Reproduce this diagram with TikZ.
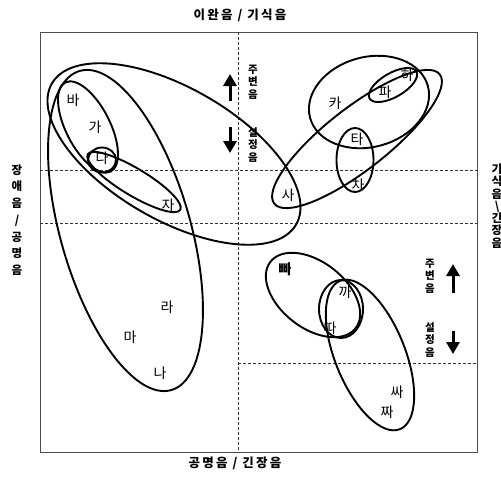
\documentclass[tikz,border=0pt]{standalone}
\usepackage{fontspec}
\newfontfamily\kr{Noto Sans CJK KR}
\usetikzlibrary{arrows.meta}
\tikzset{
  frameln/.style={line width=0.8pt, black!70},
  gridln/.style={dash pattern=on 2.5pt off 2.5pt, line width=0.7pt, black!80},
  grp/.style={line width=1.9pt},
  phon/.style={font=\kr\fontsize{14}{14}\selectfont, inner sep=0pt},
  axlab/.style={font=\kr\bfseries\fontsize{12.5}{12.5}\selectfont, inner sep=0pt},
  sidelab/.style={font=\kr\bfseries\fontsize{11.5}{16.7}\selectfont, align=center, inner sep=0pt},
  featlab/.style={font=\kr\bfseries\fontsize{10.5}{12.5}\selectfont, align=center, inner sep=0pt},
  dirarr/.style={-{Triangle[length=12pt,width=13pt]}, line width=3pt},
}
\newcommand{\grpell}[5]{% centre x, centre y, angle, half axes
  \draw[grp, rotate around={#3:(#1,#2)}] (#1,#2) ellipse [x radius=#4pt, y radius=#5pt];
}
\newcommand{\gap}{\hspace{2.2pt}}

\begin{document}
\begin{tikzpicture}[x=1pt, y=-1pt]
    \useasboundingbox (0,0) rectangle (501,488);
    \fill[white] (0,0) rectangle (501,488);
    % frame and quadrant lines
    \draw[frameln] (40,32) rectangle (477,452);
    \draw[gridln] (238,32) -- (238,452);
    \draw[gridln] (40,170) -- (477,170);
    \draw[gridln] (40,223) -- (477,223);
    \draw[gridln] (238,363) -- (477,363);
    % axis labels
    \node[axlab] (top) at (240,15) {이\gap 완\gap 음\gap\ /\gap\ 기\gap 식\gap 음};
    \node[axlab] (bot) at (235,463) {공\gap 명\gap 음\gap\ /\gap\ 긴\gap 장\gap 음};
    \node[sidelab] (left) at (17,220) {장\\애\\음\\/\\공\\명\\음};
    \node[sidelab, font=\kr\bfseries\fontsize{11.5}{12.3}\selectfont] (right) at (497,206)
      {기\\식\\음\\\textbackslash\\긴\\장\\음};
    % feature labels
    \node[featlab] (pe1) at (253,82) {주\\변\\음};
    \node[featlab] (co1) at (253,145) {설\\정\\음};
    \node[featlab] (pe2) at (430,276) {주\\변\\음};
    \node[featlab] (co2) at (430,340) {설\\정\\음};
    \draw[dirarr] (230,101) -- (230,74);
    \draw[dirarr] (230,127) -- (230,153);
    \draw[dirarr] (453,293) -- (453,264);
    \draw[dirarr] (453,331) -- (453,354);
    % the segments
    \node[phon] (ba) at (73,100) {바};
    \node[phon] (ga) at (95,127) {가};
    \node[phon] (da) at (102,158) {다};
    \node[phon] (ja) at (168,205) {자};
    \node[phon] (ra) at (167,307) {라};
    \node[phon] (ma) at (130,337) {마};
    \node[phon] (na) at (160,373) {나};
    \node[phon] (ka) at (335,103) {카};
    \node[phon] (pa) at (385,92) {파};
    \node[phon] (ha) at (407,75) {하};
    \node[phon] (ta) at (357,139) {타};
    \node[phon] (cha) at (358,185) {차};
    \node[phon] (sa) at (288,195) {사};
    \node[phon, font=\kr\bfseries\fontsize{14}{14}\selectfont] (ppa) at (285,269) {빠};
    \node[phon] (kka) at (345,292) {까};
    \node[phon] (tta) at (330,328) {따};
    \node[phon] (ssa) at (397,392) {싸};
    \node[phon] (jja) at (387,412) {짜};
    % the groupings
    \grpell{174}{154}{-30}{141}{66}
    \grpell{125.5}{230.5}{-74}{166}{65}
    \grpell{88}{127}{-63}{50}{22}
    \grpell{102}{160}{0}{14}{12.5}
    \grpell{134}{182}{-31}{54}{13.5}
    \grpell{369}{102}{15}{61}{45}
    \grpell{393}{85}{30}{27}{12}
    \grpell{357}{139}{38}{105}{31}
    \grpell{355}{160}{0}{18.5}{32}
    \grpell{313}{295}{-38}{54}{33}
    \grpell{341}{309}{0}{22}{29}
    \grpell{370}{355}{-68}{80}{35}
\end{tikzpicture}
\end{document}
